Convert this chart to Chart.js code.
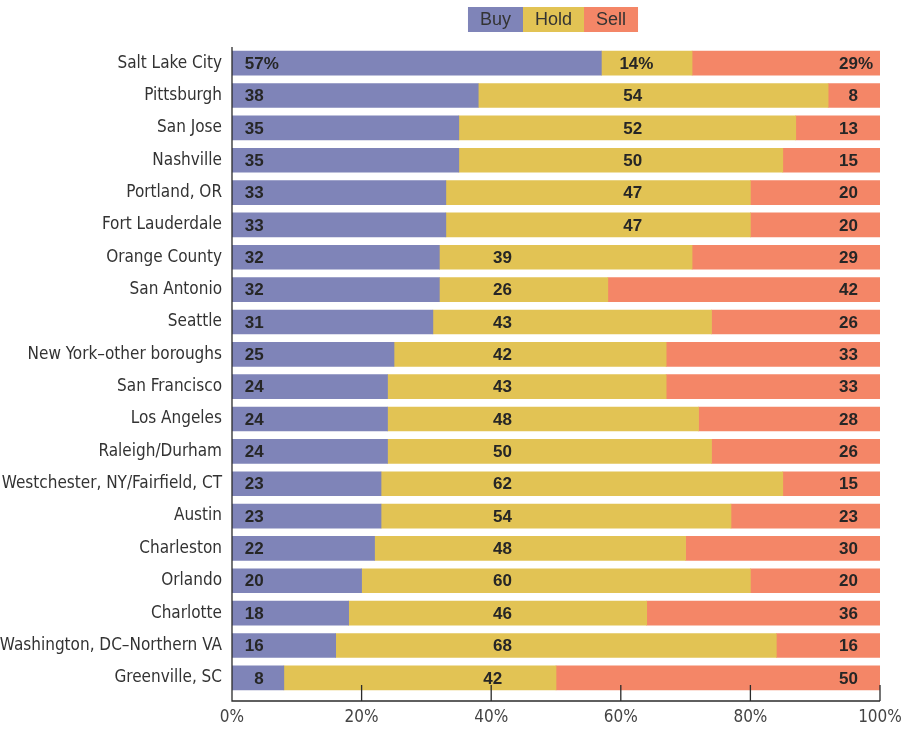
<!DOCTYPE html>
<html>
<head>
<meta charset="utf-8">
<script src="https://cdn.jsdelivr.net/npm/chart.js@4/dist/chart.umd.min.js"></script>
<style>
  html, body { margin: 0; padding: 0; background: #fff; }
  #wrap { width: 901px; height: 731px; }
</style>
</head>
<body>
<div id="wrap"><canvas id="myChart" width="901" height="731"></canvas></div>
<script>
const cities = [
  "Salt Lake City", "Pittsburgh", "San Jose", "Nashville", "Portland, OR",
  "Fort Lauderdale", "Orange County", "San Antonio", "Seattle",
  "New York\u2013other boroughs", "San Francisco", "Los Angeles",
  "Raleigh/Durham", "Westchester, NY/Fairfield, CT", "Austin", "Charleston",
  "Orlando", "Charlotte", "Washington, DC\u2013Northern VA", "Greenville, SC"
];
const buy  = [57, 38, 35, 35, 33, 33, 32, 32, 31, 25, 24, 24, 24, 23, 23, 22, 20, 18, 16, 8];
const hold = [14, 54, 52, 50, 47, 47, 39, 26, 43, 42, 43, 48, 50, 62, 54, 48, 60, 46, 68, 42];
const sell = [29, 8, 13, 15, 20, 20, 29, 42, 26, 33, 33, 28, 26, 15, 23, 30, 20, 36, 16, 50];
const seriesNames = ["Buy", "Hold", "Sell"];
const xTicks = [0, 20, 40, 60, 80, 100];

const colors = ["#7f84b8", "#e2c354", "#f48667"];
const narrow = '"Liberation Sans Narrow", "DejaVu Sans Condensed", "Arial Narrow", sans-serif';
const axisColor = "#2b2b2b";

// legend: colored boxes with the name written inside
const boxLegend = {
  id: "boxLegend",
  afterDraw(chart) {
    const ctx = chart.ctx;
    const area = chart.chartArea;
    ctx.save();
    ctx.font = '18px "Liberation Sans", Arial, sans-serif';
    const widths = seriesNames.map((n) => ctx.measureText(n).width + 24);
    const total = widths.reduce((a, b) => a + b, 0);
    let x = (area.left + area.right) / 2 - total / 2 - 3;
    seriesNames.forEach((name, i) => {
      ctx.fillStyle = colors[i];
      ctx.fillRect(x, 7, widths[i], 25);
      ctx.fillStyle = "#333";
      ctx.textAlign = "center";
      ctx.textBaseline = "middle";
      ctx.fillText(name, x + widths[i] / 2, 20);
      x += widths[i];
    });
    ctx.restore();
  },
};

// axis lines and inward tick marks, a bit below the bars
const axisLines = {
  id: "axisLines",
  afterDraw(chart) {
    const ctx = chart.ctx;
    const area = chart.chartArea;
    const xs = chart.scales.x;
    const base = area.bottom + 7;
    ctx.save();
    ctx.strokeStyle = axisColor;
    ctx.lineWidth = 1.3;
    ctx.beginPath();
    ctx.moveTo(area.left, area.top);
    ctx.lineTo(area.left, base);
    ctx.lineTo(area.right, base);
    xTicks.forEach((t) => {
      const px = xs.getPixelForValue(t);
      ctx.moveTo(px, base);
      ctx.lineTo(px, base - 16);
    });
    ctx.stroke();
    ctx.restore();
  },
};

// value labels inside the bars
const valueLabels = {
  id: "valueLabels",
  afterDatasetsDraw(chart) {
    const ctx = chart.ctx;
    const xs = chart.scales.x;
    const ys = chart.scales.y;
    ctx.save();
    ctx.font = 'bold 17px "Liberation Sans", Arial, sans-serif';
    ctx.fillStyle = "#262626";
    ctx.textBaseline = "middle";
    const put = (val, at, y, pct) => {
      const px = xs.getPixelForValue(at);
      ctx.textAlign = "right";
      ctx.fillText(String(val), px, y);
      if (pct) {
        ctx.textAlign = "left";
        ctx.fillText("%", px, y);
      }
    };
    cities.forEach((c, i) => {
      const y = ys.getPixelForValue(i) + 1;
      const pct = i === 0;
      put(buy[i], 4.9, y, pct);
      const col = buy[i] >= 33 ? 63.3 : 43.2;
      put(hold[i], Math.min(col, buy[i] + hold[i] - 8.3), y, pct);
      put(sell[i], 96.6, y, pct);
    });
    ctx.restore();
  },
};

const ctx = document.getElementById("myChart");
new Chart(ctx, {
  type: "bar",
  data: {
    labels: cities,
    datasets: [buy, hold, sell].map((d, i) => ({
      label: seriesNames[i],
      data: d,
      backgroundColor: colors[i],
      borderWidth: 0,
      barThickness: 24,
    })),
  },
  options: {
    indexAxis: "y",
    responsive: false,
    animation: false,
    layout: { padding: { top: 47, right: 21, left: 0, bottom: 0 } },
    plugins: {
      legend: { display: false },
      tooltip: { enabled: false },
    },
    scales: {
      x: {
        stacked: true,
        min: 0,
        max: 100,
        afterBuildTicks: (scale) => {
          scale.ticks = xTicks.map((v) => ({ value: v }));
        },
        afterFit: (scale) => {
          scale.height = 37;
          scale.paddingLeft = 0;
          scale.paddingRight = 0;
        },
        grid: { display: false, drawTicks: false },
        border: { display: false },
        ticks: {
          padding: 13,
          color: "#444",
          font: { family: narrow, size: 17 },
          callback: (v) => v + "%",
        },
      },
      y: {
        stacked: true,
        afterFit: (scale) => {
          scale.width = 232;
          scale.paddingTop = 0;
          scale.paddingBottom = 0;
        },
        grid: { display: false, drawTicks: false },
        border: { display: false },
        ticks: {
          padding: 10,
          color: "#333",
          font: { family: narrow, size: 17 },
        },
      },
    },
  },
  plugins: [boxLegend, axisLines, valueLabels],
});
</script>
</body>
</html>
